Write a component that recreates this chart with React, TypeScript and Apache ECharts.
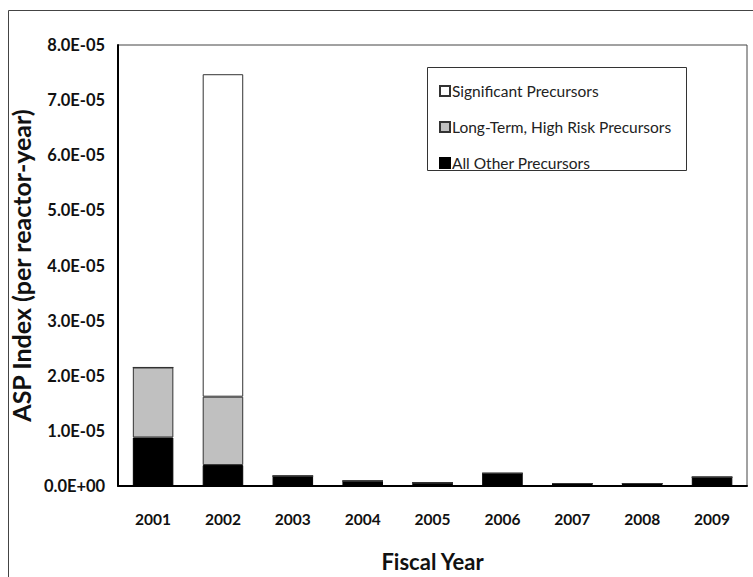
import React, { useEffect, useRef } from "react";
import * as echarts from "echarts";

const years = ["2001", "2002", "2003", "2004", "2005", "2006", "2007", "2008", "2009"];
const allOther = [8.8e-6, 3.8e-6, 1.8e-6, 0.9e-6, 0.6e-6, 2.3e-6, 0.45e-6, 0.45e-6, 1.6e-6];
const longTerm = [1.27e-5, 1.24e-5, 0, 0, 0, 0, 0, 0, 0];
const significant = [0, 5.85e-5, 0, 0, 0, 0, 0, 0, 0];
const yTicks = { min: 0, max: 8e-5, interval: 1e-5 };

const FONT = "Lato, 'Open Sans', sans-serif";

function fmt(v: number): string {
  if (v === 0) return "0.0E+00";
  const e = Math.floor(Math.log10(Math.abs(v)) + 1e-9);
  const m = v / Math.pow(10, e);
  const sign = e < 0 ? "-" : "+";
  const ae = Math.abs(e);
  return m.toFixed(1) + "E" + sign + (ae < 10 ? "0" + ae : String(ae));
}

export default function App() {
  const ref = useRef<HTMLDivElement>(null);
  useEffect(() => {
    if (!ref.current) return;
    const chart = echarts.init(ref.current, null, { renderer: "svg" });
    chart.setOption({
      animation: false,
      backgroundColor: "#fff",
      textStyle: { fontFamily: FONT },
      grid: {
        left: 115,
        top: 45,
        right: 6,
        bottom: 89,
        show: true,
        borderColor: "#444",
        borderWidth: 1,
        backgroundColor: "transparent",
      },
      graphic: [
        {
          type: "polyline",
          shape: { points: [[8.5, 577], [8.5, 10.5], [753, 10.5]] },
          style: { stroke: "#444", lineWidth: 1, fill: "none" },
          z: 1,
        },
        {
          type: "rect",
          shape: { x: 427.5, y: 67.5, width: 259, height: 103 },
          style: { fill: "#fff", stroke: "#333", lineWidth: 1 },
          z: 3,
        },
      ],
      legend: {
        orient: "vertical",
        left: 434,
        top: 77,
        z: 5,
        data: ["Significant Precursors", "Long-Term, High Risk Precursors", "All Other Precursors"],
        icon: "rect",
        itemWidth: 10,
        itemHeight: 10,
        itemGap: 18,
        textStyle: { fontFamily: FONT, fontSize: 15.5, color: "#222", lineHeight: 18, padding: [0, 0, 0, -3] },
      },
      xAxis: {
        type: "category",
        data: years,
        axisLine: { lineStyle: { color: "#000", width: 2 } },
        axisTick: { show: false },
        axisLabel: { fontFamily: FONT, fontWeight: "bold", fontSize: 15.5, color: "#111", margin: 25 },
        name: "Fiscal Year",
        nameLocation: "middle",
        nameGap: 64,
        nameTextStyle: { fontFamily: FONT, fontWeight: "bold", fontSize: 22, color: "#111" },
      },
      yAxis: {
        type: "value",
        min: yTicks.min,
        max: yTicks.max,
        interval: yTicks.interval,
        axisLine: { show: true, lineStyle: { color: "#000", width: 2 } },
        axisTick: { show: false },
        splitLine: { show: false },
        axisLabel: { fontFamily: FONT, fontWeight: "bold", fontSize: 16.5, color: "#111", margin: 13, formatter: (v: number) => fmt(v) },
        name: "ASP Index (per reactor-year)",
        nameLocation: "middle",
        nameGap: 83,
        nameTextStyle: { fontFamily: FONT, fontWeight: "bold", fontSize: 25, color: "#111" },
      },
      series: [
        {
          name: "All Other Precursors",
          type: "bar",
          stack: "asp",
          data: allOther,
          barWidth: "58%",
          itemStyle: { color: "#000", borderColor: "#000", borderWidth: 1 },
        },
        {
          name: "Long-Term, High Risk Precursors",
          type: "bar",
          stack: "asp",
          data: longTerm,
          itemStyle: { color: "#c0c0c0", borderColor: "#333", borderWidth: 1 },
        },
        {
          name: "Significant Precursors",
          type: "bar",
          stack: "asp",
          data: significant,
          itemStyle: { color: "#fff", borderColor: "#333", borderWidth: 1 },
        },
      ],
    });
    return () => chart.dispose();
  }, []);
  return <div ref={ref} style={{ position: "absolute", left: 0, top: 0, width: 753, height: 577 }} />;
}
